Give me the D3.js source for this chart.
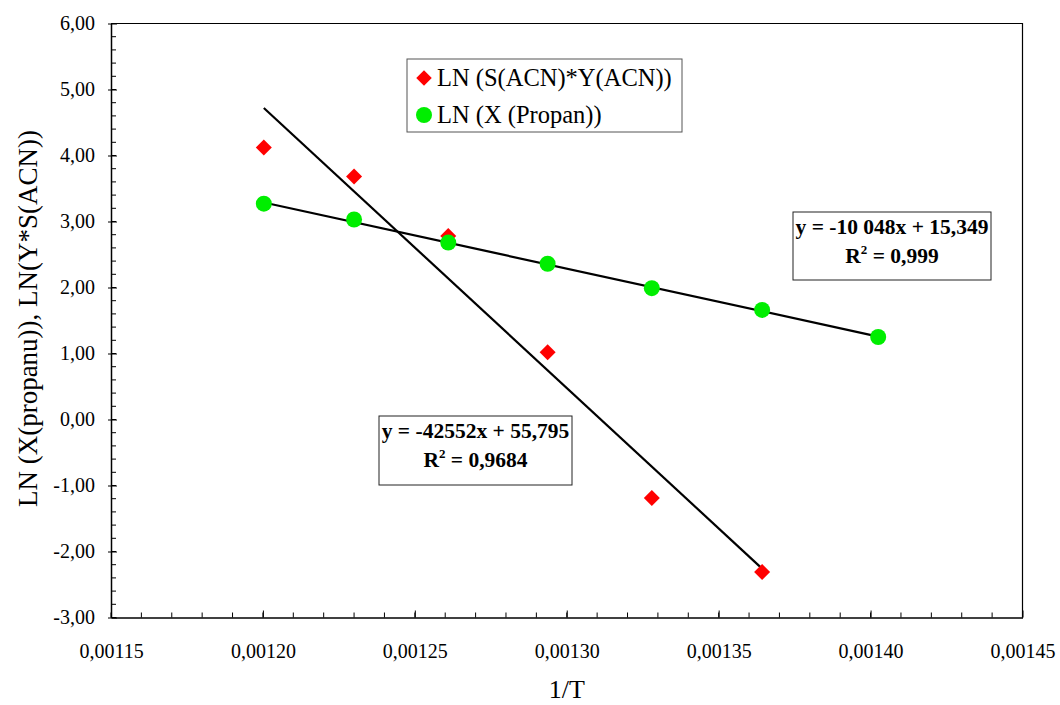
<!DOCTYPE html>
<html>
<head>
<meta charset="utf-8">
<script src="https://cdn.jsdelivr.net/npm/d3@7/dist/d3.min.js"></script>
<style>
  html, body { margin: 0; padding: 0; background: #fff; }
  svg { display: block; font-family: "Liberation Serif", "Times New Roman", serif; }
</style>
</head>
<body>
<svg id="chart" width="1060" height="705"></svg>
<script>
// 1/T values (K^-1)
const invT = [0.0012003, 0.0012300, 0.0012610, 0.0012937, 0.0013280, 0.0013643, 0.0014025];
// LN(S(ACN)*Y(ACN)) — six temperatures
const lnSY = [4.12, 3.68, 2.78, 1.02, -1.19, -2.31];
// LN(X(Propan)) — seven temperatures
const lnX = [3.27, 3.03, 2.68, 2.36, 1.99, 1.66, 1.25];

// Linear fits: slope, intercept, R²
const fitSY = { slope: -42552, intercept: 55.795, r2: "0,9684", label: "y = -42552x + 55,795" };
const fitX  = { slope: -10048, intercept: 15.349, r2: "0,999",  label: "y = -10 048x + 15,349" };

const seriesNames = ["LN (S(ACN)*Y(ACN))", "LN (X (Propan))"];
const xTicks = [0.00115, 0.00120, 0.00125, 0.00130, 0.00135, 0.00140, 0.00145];
const yTicks = [-3, -2, -1, 0, 1, 2, 3, 4, 5, 6];

const svg = d3.select("#chart");
const plot = { left: 111, right: 1022.5, top: 23.5, bottom: 617.5 };
const serif = "Liberation Serif, Times New Roman, serif";

const cz = d3.formatLocale({ decimal: ",", thousands: " ", grouping: [3], currency: ["", " Kč"], minus: "-" });
const fmtY = cz.format(".2f");
const fmtX = cz.format(".5f");

const x = d3.scaleLinear().domain([0.00115, 0.00145]).range([plot.left, plot.right]);
const y = d3.scaleLinear().domain([-3, 6]).range([plot.bottom, plot.top]);

// plot frame (top and right edges)
svg.append("path")
  .attr("d", `M${plot.left},${plot.top}H${plot.right}V${plot.bottom}`)
  .attr("fill", "none").attr("stroke", "#000").attr("stroke-width", 1.2);

// minor ticks
const yMinor = d3.range(-3, 6.0001, 0.2);
svg.append("g").selectAll("line").data(yMinor).join("line")
  .attr("x1", plot.left).attr("x2", plot.left + 5)
  .attr("y1", d => y(d)).attr("y2", d => y(d))
  .attr("stroke", "#000").attr("stroke-width", 1);
const xMinor = d3.range(0.00115, 0.0014501, 0.00001);
svg.append("g").selectAll("line").data(xMinor).join("line")
  .attr("x1", d => x(d)).attr("x2", d => x(d))
  .attr("y1", plot.bottom).attr("y2", plot.bottom - 5)
  .attr("stroke", "#000").attr("stroke-width", 1);

// y axis
const yAxis = svg.append("g").attr("transform", `translate(${plot.left},0)`)
  .call(d3.axisLeft(y).tickValues(yTicks).tickFormat(fmtY).tickSize(0).tickPadding(16));
yAxis.select(".domain").attr("stroke-width", 1.5);
yAxis.selectAll(".tick line").attr("x1", -3).attr("x2", 6).attr("stroke-width", 1);
yAxis.selectAll("text").attr("font-size", 20).attr("fill", "#000").attr("font-family", serif);

// x axis
const xAxis = svg.append("g").attr("transform", `translate(0,${plot.bottom})`)
  .call(d3.axisBottom(x).tickValues(xTicks).tickFormat(fmtX).tickSize(0).tickPadding(26));
xAxis.select(".domain").attr("stroke-width", 1.5);
xAxis.selectAll(".tick line").attr("y1", 0).attr("y2", -7).attr("stroke-width", 1);
xAxis.selectAll("text").attr("font-size", 20).attr("fill", "#000").attr("font-family", serif);

// axis titles
svg.append("text").attr("x", x(0.0013)).attr("y", 698)
  .attr("text-anchor", "middle").attr("font-size", 26).text("1/T");
svg.append("text")
  .attr("transform", `translate(37,${(plot.top + plot.bottom) / 2 - 2}) rotate(-90)`)
  .attr("text-anchor", "middle").attr("font-size", 27)
  .text("LN (X(propanu)), LN(Y*S(ACN))");

// trendlines from fit coefficients
const trend = (f, x0, x1) => [[x0, f.slope * x0 + f.intercept], [x1, f.slope * x1 + f.intercept]];
const line = d3.line().x(d => x(d[0])).y(d => y(d[1]));
svg.append("path").datum(trend(fitSY, invT[0], invT[5]))
  .attr("d", line).attr("stroke", "#000").attr("stroke-width", 2.2).attr("fill", "none");
svg.append("path").datum(trend(fitX, invT[0], invT[6]))
  .attr("d", line).attr("stroke", "#000").attr("stroke-width", 2.2).attr("fill", "none");

// markers
const diamond = d3.symbol().type(d3.symbolSquare).size(128);
svg.append("g").selectAll("path").data(lnSY).join("path")
  .attr("d", diamond)
  .attr("transform", (d, i) => `translate(${x(invT[i])},${y(d)}) rotate(45)`)
  .attr("fill", "#ff0000");
svg.append("g").selectAll("circle").data(lnX).join("circle")
  .attr("cx", (d, i) => x(invT[i])).attr("cy", d => y(d)).attr("r", 8)
  .attr("fill", "#00ee00");

// legend
const lg = svg.append("g").attr("transform", "translate(407,59)");
lg.append("rect").attr("width", 275).attr("height", 73)
  .attr("fill", "#fff").attr("stroke", "#555").attr("stroke-width", 1);
lg.append("path").attr("d", d3.symbol().type(d3.symbolSquare).size(120))
  .attr("transform", "translate(17,19) rotate(45)").attr("fill", "#ff0000");
lg.append("circle").attr("cx", 17).attr("cy", 56).attr("r", 8).attr("fill", "#00ee00");
lg.selectAll("text.item").data(seriesNames).join("text").attr("class", "item")
  .attr("x", 30).attr("y", (d, i) => 27 + i * 37).attr("font-size", 24.5).text(d => d);

// regression label boxes
function eqBox(f, bx, by, bw, bh) {
  const g = svg.append("g").attr("transform", `translate(${bx},${by})`);
  g.append("rect").attr("width", bw).attr("height", bh)
    .attr("fill", "#fff").attr("stroke", "#222").attr("stroke-width", 1);
  g.append("text").attr("x", bw / 2).attr("y", 21.5).attr("text-anchor", "middle")
    .attr("font-size", 21.5).attr("font-weight", "bold").text(f.label);
  const t = g.append("text").attr("x", bw / 2).attr("y", 51).attr("text-anchor", "middle")
    .attr("font-size", 21.5).attr("font-weight", "bold");
  t.append("tspan").text("R");
  t.append("tspan").attr("font-size", 13).attr("dy", -9).text("2");
  t.append("tspan").attr("dy", 9).text(" = " + f.r2);
}
eqBox(fitX, 793, 212, 198, 68);
eqBox(fitSY, 379, 416, 193, 69);
</script>
</body>
</html>
